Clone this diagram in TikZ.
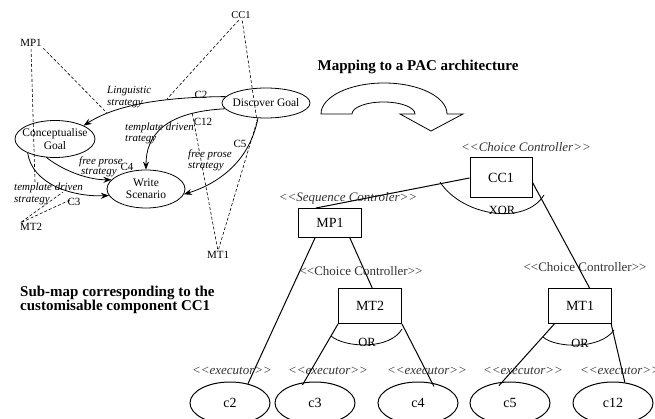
\documentclass[tikz,border=0pt]{standalone}
\usepackage{fontspec}
\setmainfont{Liberation Serif}
\usetikzlibrary{arrows.meta,calc,shapes.geometric}

% stereotype brackets, kept as two separate characters
\newcommand{\stOpen}{<{}<}
\newcommand{\stClose}{>{}>}

\begin{document}
\begin{tikzpicture}[x=1pt,y=-1pt,
  goal/.style={draw, ellipse, line width=0.8pt, inner sep=0pt},
  goaltxt/.style={font=\fontsize{11.5}{12.5}\selectfont, align=center, inner sep=0pt},
  flow/.style={line width=0.8pt, -{Stealth[length=8pt,width=6pt]}},
  slbl/.style={font=\fontsize{11}{12}\selectfont\itshape, inner sep=0pt},
  clbl/.style={font=\fontsize{11}{12}\selectfont, inner sep=0pt},
  sect/.style={line width=0.6pt, dash pattern=on 3pt off 2pt, shorten <=2pt},
  comp/.style={draw, line width=1pt, minimum width=63pt, inner sep=0pt, font=\fontsize{14}{14}\selectfont},
  exec/.style={draw, ellipse, line width=1pt, minimum width=80pt, minimum height=42pt, inner sep=0pt, font=\fontsize{14}{14}\selectfont},
  stereo/.style={font=\fontsize{13}{13}\selectfont\itshape, text=black!80, inner sep=0pt},
  stereoup/.style={font=\fontsize{13}{13}\selectfont, text=black!80, inner sep=0pt},
  link/.style={line width=1pt},
  heading/.style={font=\fontsize{15}{14}\selectfont\bfseries, inner sep=0pt}
]
\useasboundingbox (0,0) rectangle (655,419);

% ---------- sub-map ----------
\node[clbl, font=\fontsize{10.5}{11}\selectfont] (cc1s) at (241,15) {CC1};
\node[clbl] (mp1s) at (31,43) {MP1};
\node[clbl] (mt2s) at (31,227) {MT2};
\node[clbl] (mt1s) at (218,255) {MT1};

\node[goal, minimum width=88pt, minimum height=30pt, label={[goaltxt]center:Discover Goal}] (dg) at (266,103) {};
\node[goal, minimum width=80pt, minimum height=37pt, label={[goaltxt]center:{Conceptualise\\Goal}}] (cg) at (55,139) {};
\node[goal, minimum width=78pt, minimum height=38pt, label={[goaltxt]center:{Write\\Scenario}}] (ws) at (146,189) {};

\draw[flow] (dg.171) .. controls (175,97) and (120,102) .. (cg.25);
\draw[flow] (dg.188) .. controls (165,112) and (146,135) .. (ws.north);
\draw[flow] (dg.242) .. controls (250,160) and (220,183) .. (ws.-8);
\draw[flow] (cg.245) .. controls (65,172) and (90,180) .. (ws.165);
\draw[flow] (cg.207) .. controls (32,183) and (70,197) .. (ws.190);

\node[slbl, anchor=west] (ling1) at (107,91) {Linguistic};
\node[slbl, anchor=west] (ling2) at (107,104) {strategy};
\node[clbl] (c2l) at (201,95) {C2};
\node[slbl, anchor=west] (tpl1) at (125,128) {template driven};
\node[slbl, anchor=west] (tpl2) at (125,140) {trategy};
\node[clbl] (c12l) at (203,122) {C12};
\node[clbl] (c5l) at (240,144) {C5};
\node[slbl, anchor=west] (fp1) at (188,155) {free prose};
\node[slbl, anchor=west] (fp2) at (188,167) {strategy};
\node[slbl, anchor=west] (fq1) at (79,162) {free prose};
\node[slbl, anchor=west] (fq2) at (81,173) {strategy};
\node[clbl] (c4l) at (127,167) {C4};
\node[slbl, anchor=west] (td1) at (14,188) {template driven};
\node[slbl, anchor=west] (td2) at (14,201) {strategy};
\node[clbl] (c3l) at (74,202) {C3};

\coordinate (c2pt) at (167,99);
\coordinate (c5pt) at (257,121);
\coordinate (c12pt) at (192,112);
\coordinate (mp1a) at (35,182);
\coordinate (mp1b) at (107,113);
\coordinate (mt2a) at (63,192);
\coordinate (mt2b) at (70,200);

\draw[sect] (cc1s.255) -- (c2pt);
\draw[sect] (cc1s.285) -- (c5pt);
\draw[sect] (mt1s.north) -- (c5pt);
\draw[sect] (mt1s.north) -- (c12pt);
\draw[sect] (mp1s.south) -- (mp1a);
\draw[sect] (mp1s.south east) -- (mp1b);
\draw[sect] (mt2s.north west) -- (mt2a);
\draw[sect] (mt2s.north west) -- (mt2b);

\node[heading, align=left, anchor=west] (subtitle) at (20,300) {Sub-map corresponding to the\\customisable component CC1};

% ---------- PAC architecture ----------
\node[heading] (maptitle) at (418,67) {Mapping to a PAC architecture};

\draw[line width=0.8pt] (321,114) arc[start angle=180, end angle=360, x radius=63, y radius=31]
  -- (463,114) -- (431,131) -- (400,114) -- (415,114)
  arc[start angle=0, end angle=-180, x radius=31.5, y radius=12] -- cycle;

\node[stereo] (cc1st) at (526,147) {\stOpen Choice Controller\stClose};
\node[comp, minimum width=62pt, minimum height=40pt] (CC1) at (501,178) {CC1};
\node[stereo] (mp1st) at (348,198) {\stOpen Sequence Controler\stClose};
\node[comp, minimum height=29pt] (MP1) at (330,223) {MP1};
\node[stereoup] (mt2st) at (361,271) {\stOpen Choice Controller\stClose};
\node[comp, minimum height=35pt] (MT2) at (370,306) {MT2};
\node[stereoup] (mt1st) at (585,267) {\stOpen Choice Controller\stClose};
\node[comp, minimum height=35pt] (MT1) at (580,306) {MT1};

\node[stereo] (e2) at (232,371) {\stOpen executor\stClose};
\node[stereo] (e3) at (328,371) {\stOpen executor\stClose};
\node[stereo] (e4) at (427,371) {\stOpen executor\stClose};
\node[stereo] (e5) at (523,371) {\stOpen executor\stClose};
\node[stereo] (e12) at (620,371) {\stOpen executor\stClose};

\node[exec] (c2) at (230,403) {c2};
\node[exec] (c3) at (315,403) {c3};
\node[exec] (c4) at (418,403) {c4};
\node[exec] (c5) at (510,403) {c5};
\node[exec] (c12) at (613,403) {c12};

\draw[link] (CC1.west) -- (MP1.133);
\draw[link] (CC1.-8) -- (MT1.62);
\draw[link] (MP1.225) -- (c2.47);
\draw[link] (MP1.-37) -- (MT2.83);
\draw[link, shorten >=-3pt] (MT2.south west) -- (c3.118);
\draw[link, shorten >=-4pt] (MT2.south east) -- (c4.55);
\draw[link, shorten >=-5pt] (MT1.215) -- (c5.110);
\draw[link] (MT1.-30) -- (c12.60);

\draw[line width=0.8pt] (440,182) .. controls (462,216) and (525,226) .. (544,195);
\node[clbl, font=\fontsize{12.5}{13}\selectfont] (xor) at (502,210) {XOR};
\draw[line width=0.8pt] (331,336) .. controls (345,348) and (390,350) .. (402,329);
\node[clbl, font=\fontsize{12.5}{13}\selectfont] (or1) at (367,342) {OR};
\draw[line width=0.8pt] (543,337) .. controls (555,348) and (600,350) .. (614,330);
\node[clbl, font=\fontsize{12.5}{13}\selectfont] (or2) at (580,343) {OR};
\end{tikzpicture}
\end{document}
